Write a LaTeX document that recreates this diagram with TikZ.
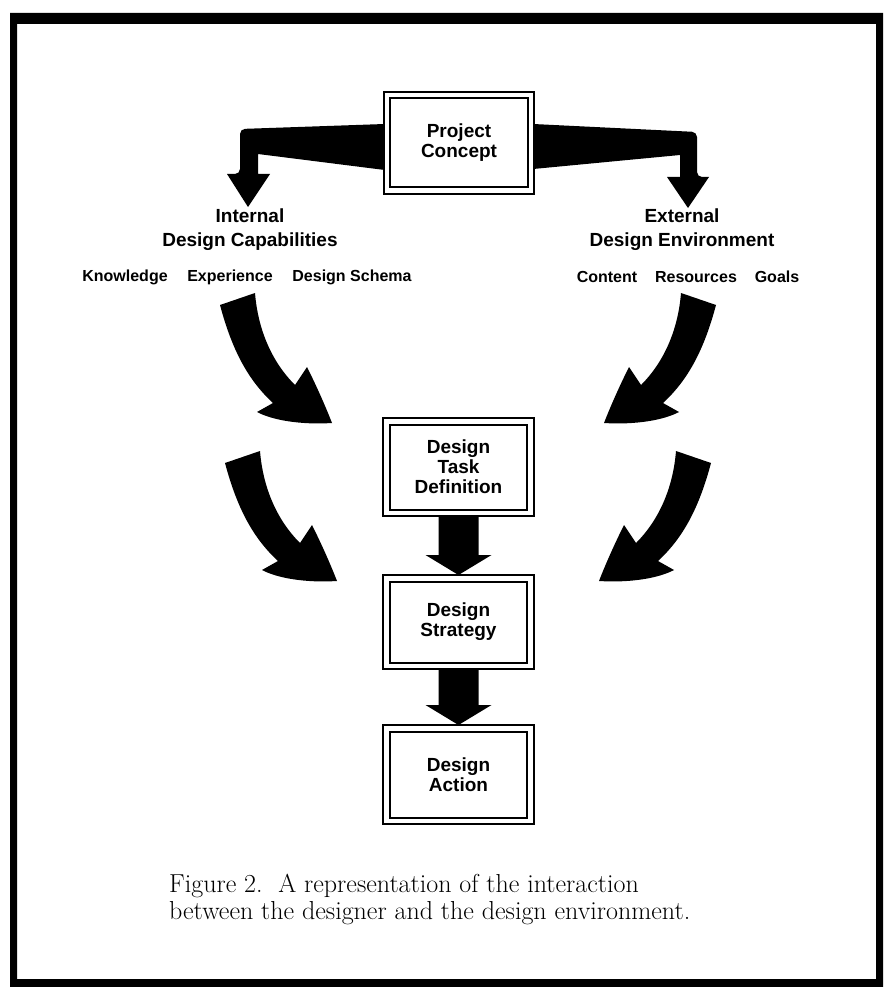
\documentclass[tikz,border=0pt]{standalone}
\usepackage{fontspec}
\newfontfamily\labfont{Liberation Sans}
\usetikzlibrary{calc}
\begin{document}
\begin{tikzpicture}[x=1pt,y=-1pt,
  dbox/.style={draw, line width=2pt, double, double distance=4.5pt, minimum width=144pt, inner sep=0pt, outer sep=4.25pt, align=center, font=\labfont\bfseries\fontsize{19}{20}\selectfont},
  headtxt/.style={align=center, font=\labfont\bfseries\fontsize{19}{24}\selectfont, inner sep=0pt},
  itemtxt/.style={font=\labfont\bfseries\fontsize{16}{18}\selectfont, inner sep=0pt},
  carrowL/.pic={\fill (220,305) -- (255,293) .. controls (258,330) and (272,362) .. (295,385) -- (307,367) .. controls (316,385) and (325,405) .. (332,423) .. controls (300,425) and (272,420) .. (257,412) -- (273,403) .. controls (248,380) and (232,350) .. (220,305) -- cycle;},
  carrowR/.pic={\fill (716,305) -- (681,293) .. controls (678,330) and (664,362) .. (641,385) -- (629,367) .. controls (620,385) and (611,405) .. (604,423) .. controls (636,425) and (664,420) .. (679,412) -- (663,403) .. controls (688,380) and (704,350) .. (716,305) -- cycle;}
]
\useasboundingbox (0,0) rectangle (883,987);
% frame
\fill[even odd rule] (10,13) rectangle (883,987) (17,24) rectangle (876,979);

% boxes
\node[dbox, minimum height=95.5pt] (proj) at (459,143) {Project\\Concept};
\node[dbox, minimum height=91.5pt] (task) at (458.5,467) {Design\\Task\\Definition};
\node[dbox, minimum height=87.5pt] (strat) at (458.5,622) {Design\\Strategy};
\node[dbox, minimum height=92.5pt] (act) at (458.5,774.5) {Design\\Action};

% headings
\node[headtxt] (intl) at (250,230) {Internal\\Design Capabilities};
\node[headtxt] (extl) at (682,230) {External\\Design Environment};
\node[itemtxt] (know) at (125,277) {Knowledge};
\node[itemtxt] (expe) at (230,277) {Experience};
\node[itemtxt] (sche) at (352,277) {Design Schema};
\node[itemtxt] (cont) at (607,277) {Content};
\node[itemtxt] (reso) at (696,277) {Resources};
\node[itemtxt] (goal) at (777,277) {Goals};

% top split arrows
\fill[rounded corners=5pt] ($(proj.west)+(2,-19)$) -- (240,129) -- (240,174) [sharp corners] -- (227,174) -- (248,207) -- (270,174) -- (258,174) -- (258,154) -- ($(proj.west)+(2,27)$) -- cycle;
\fill[rounded corners=5pt] ($(proj.east)+(-2,-19)$) -- (697,132) -- (697,177) [sharp corners] -- (709,177) -- (688,208) -- (667,177) -- (680,177) -- (680,155) -- ($(proj.east)+(-2,26)$) -- cycle;

% straight arrows between boxes
\fill ($(task.south)+(-20,-2)$) -- ($(task.south)+(20,-2)$) -- ($(task.south)+(20,38)$) -- ($(task.south)+(33,38)$) -- ($(strat.north)+(0,1)$) -- ($(task.south)+(-33,38)$) -- ($(task.south)+(-20,38)$) -- cycle;
\fill ($(strat.south)+(-20,-2)$) -- ($(strat.south)+(20,-2)$) -- ($(strat.south)+(20,35)$) -- ($(strat.south)+(33,35)$) -- ($(act.north)+(0,1)$) -- ($(strat.south)+(-33,35)$) -- ($(strat.south)+(-20,35)$) -- cycle;

% curved arrows
\pic {carrowL};
\begin{scope}[shift={(5,158)}] \pic {carrowL}; \end{scope}
\pic {carrowR};
\begin{scope}[shift={(-5,158)}] \pic {carrowR}; \end{scope}

% caption
\node[anchor=west, align=left, inner sep=0pt, font=\fontsize{26}{27}\selectfont] (cap) at (169,899) {Figure 2.\ \ A representation of the interaction\\between the designer and the design environment.};
\end{tikzpicture}
\end{document}
